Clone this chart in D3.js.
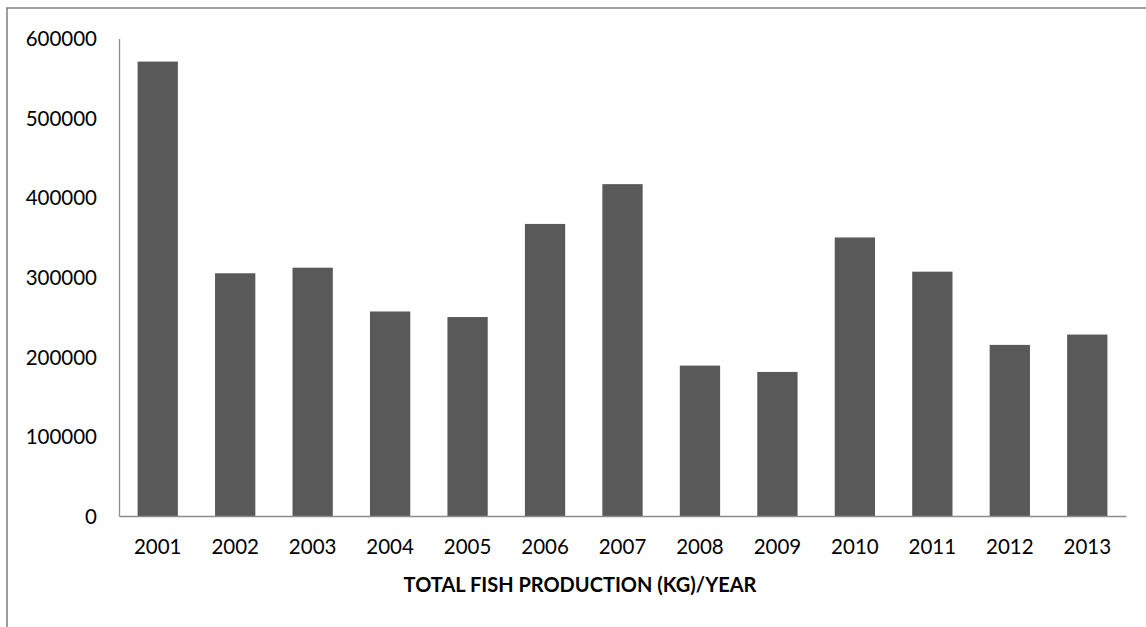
<!DOCTYPE html>
<html>
<head>
<meta charset="utf-8">
<script src="https://cdn.jsdelivr.net/npm/d3@7/dist/d3.min.js"></script>
<style>
  html, body { margin: 0; padding: 0; background: #fff; }
  svg { display: block; }
  text { font-family: Lato, "Open Sans", sans-serif; fill: #000; }
</style>
</head>
<body>
<svg id="chart" width="1146" height="627"></svg>
<script>
// Annual fish production, kg
const years = ["2001", "2002", "2003", "2004", "2005", "2006", "2007",
               "2008", "2009", "2010", "2011", "2012", "2013"];
const production = [571000, 305000, 312000, 257000, 250000, 367000, 417000,
                    189000, 181000, 350000, 307000, 215000, 228000];
const yTicks = [0, 100000, 200000, 300000, 400000, 500000, 600000];
const axisTitle = "TOTAL FISH PRODUCTION (KG)/YEAR";

const svg = d3.select("#chart");

// chart frame (extends past the right and bottom edges)
svg.append("rect")
  .attr("x", 7).attr("y", 8)
  .attr("width", 1146).attr("height", 630)
  .attr("fill", "#fff")
  .attr("stroke", "#7f7f7f")
  .attr("stroke-width", 1.5);

const plot = { left: 119, right: 1126, top: 38.5, bottom: 516 };

const x = d3.scaleBand()
  .domain(years)
  .range([plot.left, plot.right])
  .paddingInner(0.48)
  .paddingOuter(0.24);

const y = d3.scaleLinear()
  .domain([0, 600000])
  .range([plot.bottom, plot.top]);

// bars
svg.append("g")
  .selectAll("rect")
  .data(years.map((yr, i) => ({ yr, v: production[i] })))
  .join("rect")
  .attr("x", d => x(d.yr))
  .attr("y", d => y(d.v))
  .attr("width", x.bandwidth())
  .attr("height", d => y(0) - y(d.v))
  .attr("fill", "#595959");

// y axis
const yAxis = svg.append("g")
  .attr("transform", `translate(${plot.left},0)`)
  .call(d3.axisLeft(y).tickValues(yTicks).tickSize(0).tickPadding(22)
        .tickFormat(d3.format("d")));
yAxis.select(".domain").attr("stroke", "#8c8c8c").attr("stroke-width", 1.3);
yAxis.selectAll("text").attr("font-size", 20.5).attr("dy", "0.35em");

// x axis
const xAxis = svg.append("g")
  .attr("transform", `translate(0,${plot.bottom})`)
  .call(d3.axisBottom(x).tickSize(0).tickPadding(23));
xAxis.select(".domain").attr("stroke", "#8c8c8c").attr("stroke-width", 1.3);
xAxis.selectAll("text").attr("font-size", 20.5).attr("dy", "0.71em");

// axis title
svg.append("text")
  .attr("x", 580)
  .attr("y", 592)
  .attr("text-anchor", "middle")
  .attr("font-size", 20)
  .attr("font-weight", "bold")
  .text(axisTitle);
</script>
</body>
</html>
